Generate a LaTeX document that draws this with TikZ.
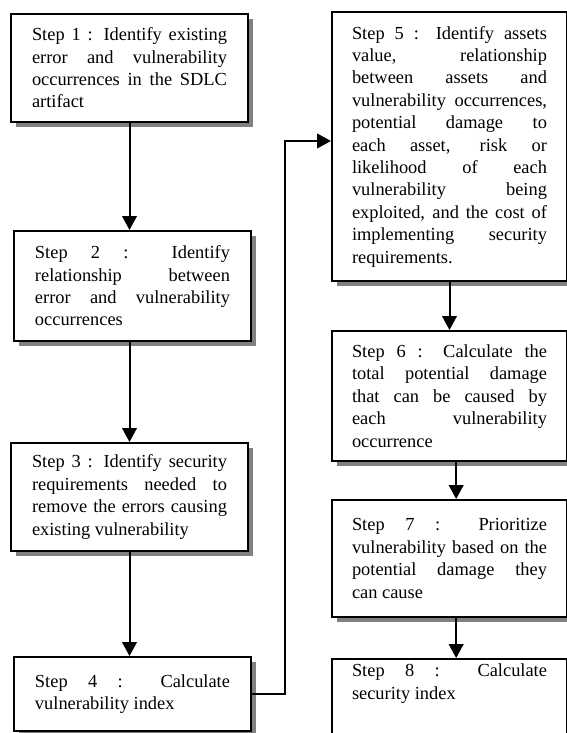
\documentclass[tikz,border=0pt]{standalone}
\usepackage{fontspec}
\setmainfont{Liberation Serif}
\usetikzlibrary{arrows.meta,shadows}
\begin{document}
\begin{tikzpicture}[x=0.75pt,y=-0.75pt,
	stepbox/.style={draw,line width=1.5pt,fill=white,anchor=north west,inner xsep=15.75pt,inner ysep=3pt,
		text width=146.25pt,align=justify,font=\fontsize{13.8}{16.8}\selectfont,
		execute at begin node={\tolerance=10000\hyphenpenalty=10000\relax},
		drop shadow={shadow xshift=3.75pt,shadow yshift=-3.75pt,fill=black!50,opacity=1}},
	rightbox/.style={stepbox,inner xsep=15pt},
	flow/.style={line width=1.5pt,-{Triangle[width=11pt,length=10.5pt]}}]
	\useasboundingbox (0,0) rectangle (567,733);
	\clip (0,0) rectangle (567,733);
	\node[stepbox,minimum height=81pt] (s1) at (10,13) {Step 1 : Identify existing\linebreak error and vulnerability\linebreak occurrences in the SDLC\linebreak artifact};
	\node[stepbox,minimum height=82.5pt] (s2) at (13,230) {Step 2 : Identify\linebreak relationship between\linebreak error and vulnerability\linebreak occurrences};
	\node[stepbox,minimum height=81pt] (s3) at (10,442) {Step 3 : Identify security\linebreak requirements needed to\linebreak remove the errors causing\linebreak existing vulnerability};
	\node[stepbox,minimum height=55.5pt] (s4) at (13,656) {Step 4 : Calculate\linebreak vulnerability index};
	\node[rightbox,minimum height=201.75pt] (s5) at (331,11) {Step 5 : Identify assets\linebreak value, relationship\linebreak between assets and\linebreak vulnerability occurrences,\linebreak potential damage to\linebreak each asset, risk or\linebreak likelihood of each\linebreak vulnerability being\linebreak exploited, and the cost of\linebreak implementing security\linebreak requirements.};
	\node[rightbox,minimum height=97.5pt] (s6) at (331,330) {Step 6 : Calculate the\linebreak total potential damage\linebreak that can be caused by\linebreak each vulnerability\linebreak occurrence};
	\node[rightbox,minimum height=87.75pt] (s7) at (331,499) {Step 7 : Prioritize\linebreak vulnerability based on the\linebreak potential damage they\linebreak can cause};
	\node[rightbox,inner ysep=3.75pt,text depth=60pt] (s8) at (331,658) {Step 8 : Calculate\linebreak security index};
	\coordinate (bend) at (285,141);
	\draw[flow] (s1.south) -- (s1.south |- s2.north);
	\draw[flow] (s3.north |- s2.south) -- (s3.north);
	\draw[flow] (s3.south) -- (s3.south |- s4.north);
	\draw[flow] (s4.east) -| (bend) -- (bend -| s5.west);
	\draw[flow] (s5.south) -- (s5.south |- s6.north);
	\draw[flow] ([xshift=5pt]s6.south) -- ([xshift=5pt]s7.north);
	\draw[flow] ([xshift=5pt]s7.south) -- ([xshift=5pt]s8.north);
\end{tikzpicture}
\end{document}
